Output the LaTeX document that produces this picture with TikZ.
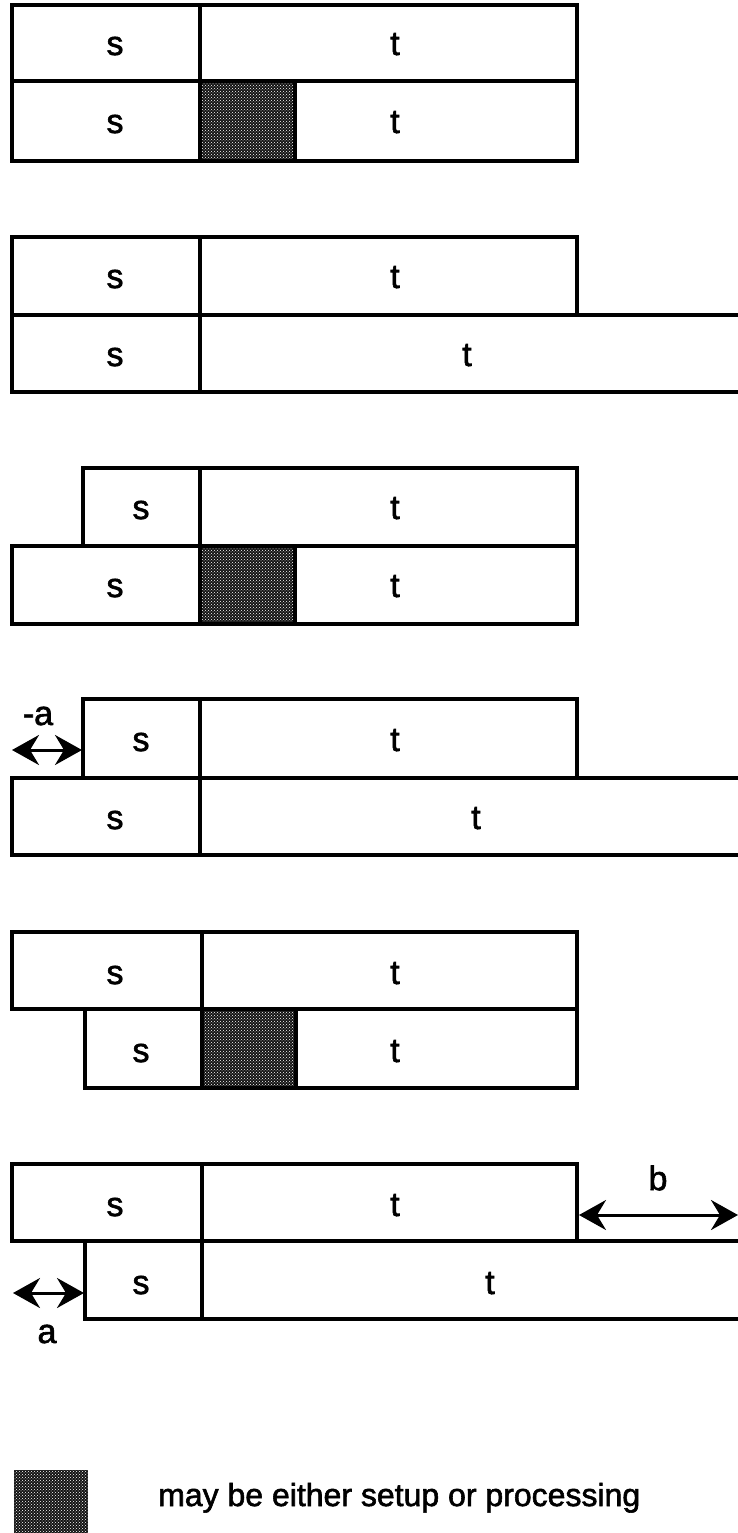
\documentclass[tikz,border=0pt]{standalone}
\usepackage{fontspec}
\setmainfont{Liberation Sans}
\newfontfamily\labelfont[FakeBold=1.8]{Liberation Sans}
\usetikzlibrary{arrows.meta,patterns}
\begin{document}
\begin{tikzpicture}[x=1pt,y=-1pt,
  box/.style={line width=3.5pt, line join=miter, line cap=rect},
  lbl/.style={font=\labelfont\fontsize{34}{40}\selectfont, inner sep=0pt, anchor=base},
  shaded/.style={fill=black!92, postaction={pattern=crosshatch dots, pattern color=white}},
  dim/.style={line width=3pt,
    {Stealth[length=27pt,width=30pt,inset=9pt]}-{Stealth[length=27pt,width=30pt,inset=9pt]}}]
\useasboundingbox (0,0) rectangle (738,1533);

% ---- pair 1: s|t over s|shaded|t
\fill[shaded] (200,81) rectangle (295,161);
\draw[box] (12,5) rectangle (577,161);
\draw[box] (12,81) -- (577,81);
\draw[box] (200,5) -- (200,161);
\draw[box] (295,81) -- (295,161);
\node[lbl] (s1a) at (115,55) {s};
\node[lbl] (t1a) at (395,55) {t};
\node[lbl] (s1b) at (115,133) {s};
\node[lbl] (t1b) at (395,133) {t};

% ---- pair 2: second job runs longer
\draw[box] (12,237) rectangle (577,315);
\draw[box] (738,315) -- (12,315) -- (12,392) -- (738,392);
\draw[box] (200,237) -- (200,392);
\node[lbl] (s2a) at (115,288) {s};
\node[lbl] (t2a) at (395,288) {t};
\node[lbl] (s2b) at (115,366) {s};
\node[lbl] (t2b) at (467,366) {t};

% ---- pair 3: shorter setup on top
\fill[shaded] (200,546) rectangle (295,624);
\draw[box] (83,468) rectangle (577,546);
\draw[box] (12,546) rectangle (577,624);
\draw[box] (200,468) -- (200,624);
\draw[box] (295,546) -- (295,624);
\node[lbl] (s3a) at (141,519) {s};
\node[lbl] (t3a) at (395,519) {t};
\node[lbl] (s3b) at (115,597) {s};
\node[lbl] (t3b) at (395,597) {t};

% ---- pair 4: offset -a
\draw[box] (83,699) rectangle (577,778);
\draw[box] (738,778) -- (12,778) -- (12,855) -- (738,855);
\draw[box] (200,699) -- (200,855);
\node[lbl] (s4a) at (141,751) {s};
\node[lbl] (t4a) at (395,751) {t};
\node[lbl] (s4b) at (115,829) {s};
\node[lbl] (t4b) at (476,829) {t};
\coordinate (m4l) at (12,750);
\coordinate (m4r) at (82,750);
\draw[dim] (m4l) -- (m4r);
\node[lbl, anchor=center] (na) at (38,716) {-a};

% ---- pair 5: shorter setup below
\fill[shaded] (202,1009) rectangle (296,1088);
\draw[box] (12,932) rectangle (577,1009);
\draw[box] (85,1009) rectangle (577,1088);
\draw[box] (202,932) -- (202,1088);
\draw[box] (296,1009) -- (296,1088);
\node[lbl] (s5a) at (115,984) {s};
\node[lbl] (t5a) at (395,984) {t};
\node[lbl] (s5b) at (141,1062) {s};
\node[lbl] (t5b) at (395,1062) {t};

% ---- pair 6: offsets a and b
\draw[box] (12,1164) rectangle (577,1241);
\draw[box] (738,1241) -- (85,1241) -- (85,1319) -- (738,1319);
\draw[box] (202,1164) -- (202,1319);
\node[lbl] (s6a) at (115,1216) {s};
\node[lbl] (t6a) at (395,1216) {t};
\node[lbl] (s6b) at (141,1294) {s};
\node[lbl] (t6b) at (490,1294) {t};
\coordinate (m6bl) at (579,1215);
\coordinate (m6br) at (738,1215);
\draw[dim] (m6bl) -- (m6br);
\node[lbl, anchor=center] (nb) at (658,1178) {b};
\coordinate (m6al) at (13,1293);
\coordinate (m6ar) at (84,1293);
\draw[dim] (m6al) -- (m6ar);
\node[lbl, anchor=center] (nal) at (47,1334) {a};

% ---- legend
\fill[shaded] (14,1470) rectangle (88,1540);
\node[anchor=base west, inner sep=0pt, font=\labelfont\fontsize{32}{38}\selectfont] (legend) at (158,1506) {may be either setup or processing};
\end{tikzpicture}
\end{document}
